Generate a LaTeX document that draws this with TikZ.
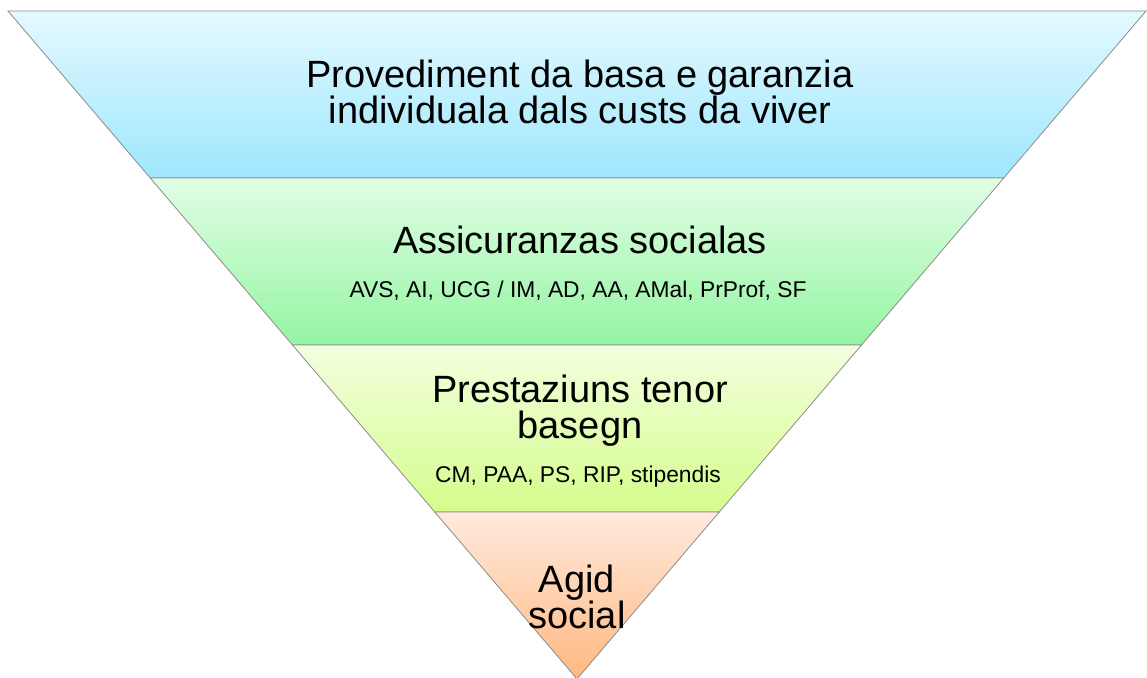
\documentclass[tikz,border=0pt]{standalone}
\usepackage{fontspec}
\setmainfont{Liberation Sans}
\usetikzlibrary{calc}

\definecolor{edgegray}{RGB}{140,140,140}
\definecolor{blueA}{RGB}{228,249,255}
\definecolor{blueB}{RGB}{158,231,253}
\definecolor{greenA}{RGB}{226,253,230}
\definecolor{greenB}{RGB}{148,245,162}
\definecolor{limeA}{RGB}{242,255,222}
\definecolor{limeB}{RGB}{214,252,140}
\definecolor{peachA}{RGB}{255,234,222}
\definecolor{peachB}{RGB}{255,184,128}

\begin{document}
\begin{tikzpicture}[x=1pt,y=-1pt,
    band/.style={draw=edgegray,line width=0.8pt},
    head/.style={font=\fontsize{38}{36}\selectfont,align=center,anchor=base},
    sub/.style={font=\fontsize{22.8}{26}\selectfont,anchor=base}]
  \useasboundingbox (0,0) rectangle (1147,677);

  % Corners
  \coordinate (tl) at (8,11);
  \coordinate (tr) at (1146,11);
  \coordinate (apex) at (577,679);
  \foreach \k in {1,2,3} {
    \coordinate (l\k) at ($(tl)!\k/4!(apex)$);
    \coordinate (r\k) at ($(tr)!\k/4!(apex)$);
  };

  % Bands
  \shadedraw[band,top color=blueA,bottom color=blueB] (tl) -- (tr) -- (r1) -- (l1) -- cycle;
  \shadedraw[band,top color=greenA,bottom color=greenB] (l1) -- (r1) -- (r2) -- (l2) -- cycle;
  \shadedraw[band,top color=limeA,bottom color=limeB] (l2) -- (r2) -- (r3) -- (l3) -- cycle;
  \shadedraw[band,top color=peachA,bottom color=peachB] (l3) -- (r3) -- (apex) -- cycle;

  % Labels (base = last line)
  \node[head] (basa) at (580,123) {Provediment da basa e garanzia\\individuala dals custs da viver};
  \node[head] (assic) at (580,253) {Assicuranzas socialas};
  \node[sub] (assiclist) at (578,297) {AVS, AI, UCG / IM, AD, AA, AMal, PrProf, SF};
  \node[head] (prest) at (580,438) {Prestaziuns tenor\\basegn};
  \node[sub] (prestlist) at (578,482) {CM, PAA, PS, RIP, stipendis};
  \node[head] (agid) at (577,628) {Agid\\social};
\end{tikzpicture}
\end{document}
